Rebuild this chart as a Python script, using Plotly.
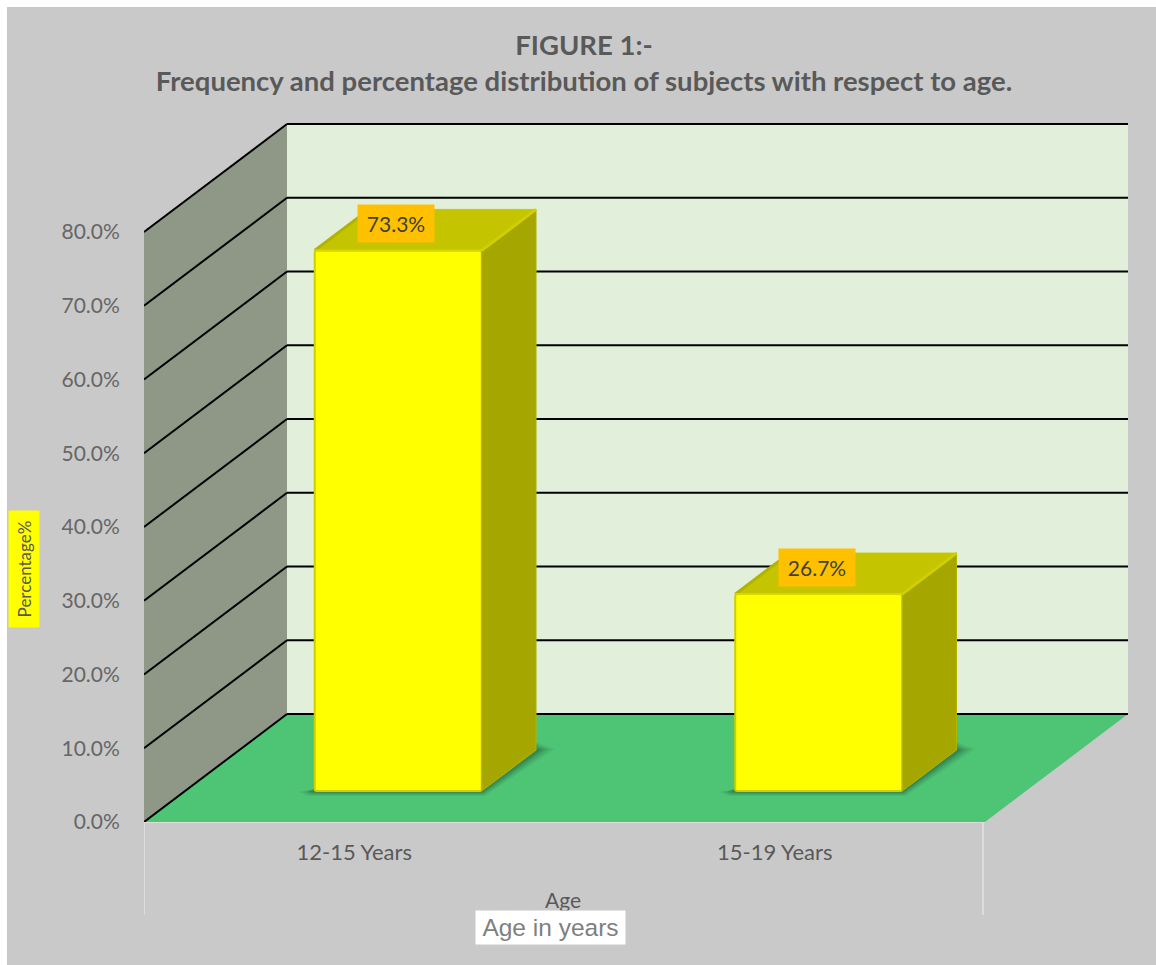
import plotly.graph_objects as go

# Chart data
categories = ["12-15 Years", "15-19 Years"]
percentages = [73.3, 26.7]
y_ticks = [0, 10, 20, 30, 40, 50, 60, 70, 80]
y_tick_labels = ["0.0%", "10.0%", "20.0%", "30.0%", "40.0%", "50.0%", "60.0%", "70.0%", "80.0%"]

# Page and plot geometry (pixels)
WIDTH, HEIGHT = 1156, 965
M_L, M_R, M_T, M_B = 144, 28, 114, 143
PX_PER_CAT = 420.5
PX_PER_PCT = 7.375

# Oblique projection: depth 0 is the front of the box, depth 1 the back wall
DEPTH_X = 143 / PX_PER_CAT
DEPTH_Y = 108 / PX_PER_PCT
X_MIN, X_MAX = -0.5, 1.5
Y_TOP = (822 - M_T) / PX_PER_PCT

# Bar footprint inside the box
BAR_FRONT = 31 / 108
BAR_BACK = 72 / 108
BAR_WIDTH = 167 / PX_PER_CAT
BAR_SHIFT = 0.007


def project(x, y, depth=0.0):
    return x + depth * DEPTH_X, y + depth * DEPTH_Y


def poly_path(points):
    return "M " + " L ".join(f"{x:.4f},{y:.4f}" for x, y in points) + " Z"


def area_shape(points, color, opacity=1.0):
    return dict(type="path", path=poly_path(points), fillcolor=color, opacity=opacity,
                line=dict(width=0), xref="x", yref="y", layer="below")


def line_shape(p0, p1, color="#000000", width=2):
    return dict(type="line", x0=p0[0], y0=p0[1], x1=p1[0], y1=p1[1], xref="x", yref="y",
                line=dict(color=color, width=width), layer="below")


def px_x(px):
    return px / PX_PER_CAT


def px_y(px):
    return px / PX_PER_PCT


plot_w = WIDTH - M_L - M_R
plot_h = HEIGHT - M_T - M_B
shapes = []

# Grey chart area on the white page
shapes.append(dict(type="rect", xref="paper", yref="paper",
                   x0=(7 - M_L) / plot_w, x1=(WIDTH - M_L) / plot_w,
                   y0=-M_B / plot_h, y1=(HEIGHT - 7 - M_B) / plot_h,
                   fillcolor="#C9C9C9", line=dict(width=0), layer="below"))

# Side wall, back wall and floor
shapes.append(area_shape([project(X_MIN, 0), project(X_MIN, 0, 1),
                          project(X_MIN, 80, 1), project(X_MIN, 80)], "#8F9887"))
shapes.append(area_shape([project(X_MIN, 0, 1), project(X_MAX, 0, 1),
                          project(X_MAX, 80, 1), project(X_MIN, 80, 1)], "#E2EFDA"))
shapes.append(area_shape([project(X_MIN, 0), project(X_MAX, 0),
                          project(X_MAX, 0, 1), project(X_MIN, 0, 1)], "#4EC475"))

# Gridlines running along both walls
for tick in y_ticks:
    shapes.append(line_shape(project(X_MIN, tick), project(X_MIN, tick, 1)))
    shapes.append(line_shape(project(X_MIN, tick, 1), project(X_MAX, tick, 1)))

# Pale edge under the floor and extension lines below it
shapes.append(dict(type="line", xref="x", yref="paper", x0=X_MIN, x1=X_MAX, y0=0, y1=0,
                   line=dict(color="#DCDCDC", width=2), layer="below"))
for x_pos in (X_MIN, X_MAX - px_x(2)):
    shapes.append(dict(type="line", xref="x", yref="paper", x0=x_pos, x1=x_pos,
                       y0=(HEIGHT - 915 - M_B) / plot_h, y1=0,
                       line=dict(color="#DCDCDC", width=2), layer="below"))

# Soft floor shadows behind each bar, built from nested translucent polygons
for i in range(len(categories)):
    left = i + BAR_SHIFT - BAR_WIDTH / 2
    right = i + BAR_SHIFT + BAR_WIDTH / 2
    for grow, alpha in ((1.0, 0.10), (0.75, 0.14), (0.5, 0.18), (0.3, 0.2)):
        fl, fb = project(left, 0, BAR_FRONT)
        fr, _ = project(right, 0, BAR_FRONT)
        br, bb = project(right, 0, BAR_BACK)
        shapes.append(area_shape([
            (fl - px_x(16 * grow), fb - px_y(1)),
            (fl - px_x(6 * grow), fb - px_y(5 * grow)),
            (fr + px_x(3 * grow), fb - px_y(5 * grow)),
            (br + px_x(18 * grow), bb + px_y(1 * grow)),
            (br + px_x(4 * grow), bb + px_y(6 * grow)),
            (br - px_x(4), bb + px_y(10)),
            (fr, fb + px_y(10)),
            (fl, fb + px_y(2)),
        ], "#1E4B30", alpha))

traces = []

# Front faces of the bars
traces.append(go.Bar(
    x=[i + BAR_FRONT * DEPTH_X + BAR_SHIFT for i in range(len(categories))],
    y=percentages,
    base=[BAR_FRONT * DEPTH_Y] * len(percentages),
    width=BAR_WIDTH,
    marker=dict(color="#FFFF00", line=dict(color="#CFCF00", width=2), cornerradius=2),
    hovertemplate="%{customdata}: %{y:.1f}%<extra></extra>",
    customdata=categories,
    showlegend=False,
))


def face(points, color, edge=None):
    xs = [p[0] for p in points] + [points[0][0]]
    ys = [p[1] for p in points] + [points[0][1]]
    return go.Scatter(x=xs, y=ys, mode="lines", fill="toself", fillcolor=color,
                      line=dict(color=edge or color, width=1),
                      hoverinfo="skip", showlegend=False, cliponaxis=False)


def edge_line(p0, p1, color, width):
    return go.Scatter(x=[p0[0], p1[0]], y=[p0[1], p1[1]], mode="lines",
                      line=dict(color=color, width=width),
                      hoverinfo="skip", showlegend=False, cliponaxis=False)


# Side and top faces of the bars, with lighter bevels along the edges
for i, value in enumerate(percentages):
    left = i + BAR_SHIFT - BAR_WIDTH / 2
    right = i + BAR_SHIFT + BAR_WIDTH / 2
    traces.append(face([project(right, 0, BAR_FRONT), project(right, 0, BAR_BACK),
                        project(right, value, BAR_BACK), project(right, value, BAR_FRONT)],
                       "#A6A600", "#B4B400"))
    traces.append(face([project(left, value, BAR_FRONT), project(right, value, BAR_FRONT),
                        project(right, value, BAR_BACK), project(left, value, BAR_BACK)],
                       "#C4C400", "#C9C900"))
    traces.append(edge_line(project(left, value, BAR_FRONT), project(left, value, BAR_BACK),
                            "#B2B200", 3))
    traces.append(edge_line(project(right, value, BAR_FRONT), project(right, value, BAR_BACK),
                            "#D0D000", 3))
    traces.append(edge_line(project(left, value, BAR_FRONT), project(right, value, BAR_FRONT),
                            "#D8D800", 2))

annotations = []

# Value labels sitting on the top face of each bar
for i, value in enumerate(percentages):
    lx, ly = project(i + BAR_SHIFT - px_x(2), value + px_y(27), BAR_FRONT)
    annotations.append(dict(x=lx, y=ly, xref="x", yref="y", text=f"{value:.1f}%",
                            showarrow=False, width=74, height=35, bgcolor="#FFC000",
                            xanchor="center", yanchor="middle",
                            font=dict(family="Lato", size=21, color="#404040")))

# Axis titles and caption
annotations.append(dict(xref="paper", yref="paper", x=(563 - M_L) / plot_w,
                        y=(HEIGHT - 899 - M_B) / plot_h, text="Age", showarrow=False,
                        xanchor="center", yanchor="middle",
                        font=dict(family="Lato", size=21, color="#595959")))
annotations.append(dict(xref="paper", yref="paper", x=(550.5 - M_L) / plot_w,
                        y=(HEIGHT - 928 - M_B) / plot_h, text="Age in years", showarrow=False,
                        xanchor="center", yanchor="middle",
                        width=147, height=31, bgcolor="#FFFFFF",
                        font=dict(family="Liberation Sans", size=24.5, color="#7F7F7F")))
annotations.append(dict(xref="paper", yref="paper", x=(24 - M_L) / plot_w,
                        y=(HEIGHT - 569 - M_B) / plot_h, text="Percentage%", showarrow=False,
                        xanchor="center", yanchor="middle",
                        textangle=-90, width=114, height=28, bgcolor="#FFFF00",
                        font=dict(family="Lato", size=17, color="#595959")))

fig = go.Figure(traces)
fig.update_layout(
    width=WIDTH,
    height=HEIGHT,
    margin=dict(l=M_L, r=M_R, t=M_T, b=M_B, autoexpand=False),
    paper_bgcolor="#FFFFFF",
    plot_bgcolor="rgba(0,0,0,0)",
    showlegend=False,
    title=dict(
        text="<b>FIGURE 1:-<br>Frequency and percentage distribution of subjects with respect to age.</b>",
        x=584 / WIDTH, xanchor="center", y=1 - 55 / HEIGHT, yanchor="top",
        font=dict(family="Lato", size=27.5, color="#595959"),
    ),
    xaxis=dict(
        range=[X_MIN, X_MAX + DEPTH_X],
        tickvals=list(range(len(categories))),
        ticktext=categories,
        showgrid=False, zeroline=False, showline=False,
        ticks="outside", ticklen=11, tickcolor="rgba(0,0,0,0)",
        tickfont=dict(family="Lato", size=22, color="#595959"),
        fixedrange=True,
    ),
    yaxis=dict(
        range=[0, Y_TOP],
        tickvals=y_ticks,
        ticktext=y_tick_labels,
        showgrid=False, zeroline=False, showline=False,
        ticks="outside", ticklen=19, tickcolor="rgba(0,0,0,0)",
        tickfont=dict(family="Lato", size=21, color="#666666"),
        fixedrange=True,
    ),
    shapes=shapes,
    annotations=annotations,
)

fig.write_html("out.html", config=dict(displayModeBar=False))
